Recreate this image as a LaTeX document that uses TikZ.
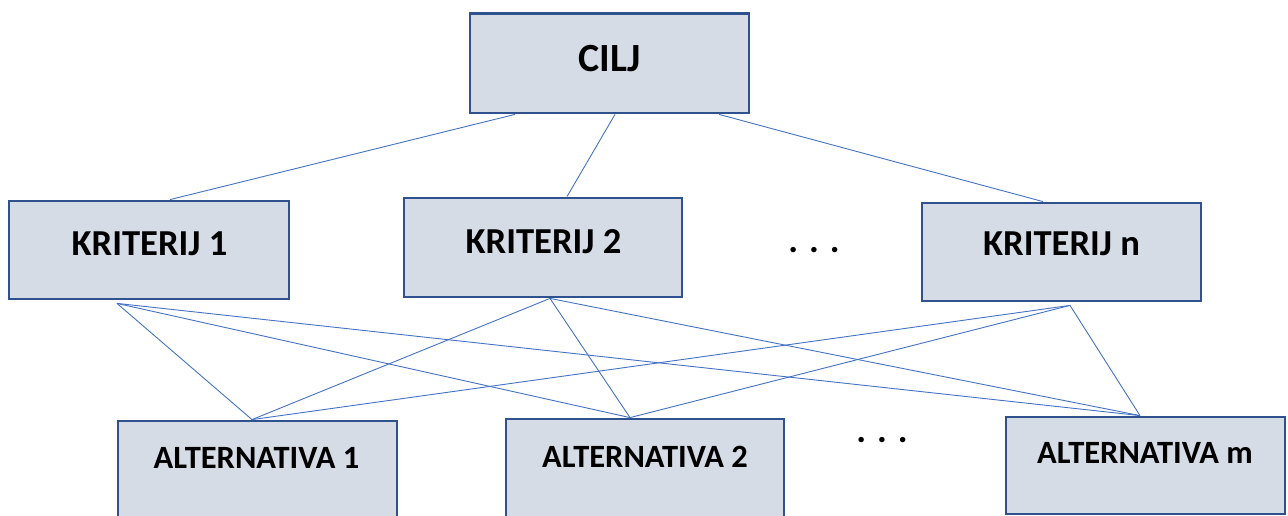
\documentclass[tikz,border=0pt]{standalone}
\usepackage{fontspec}
\setmainfont{Carlito}
\definecolor{boxfill}{HTML}{D6DCE5}
\definecolor{boxline}{HTML}{2F528F}
\definecolor{conn}{HTML}{4472C4}
\begin{document}
\begin{tikzpicture}[x=1pt,y=-1pt,
  box/.style={draw=boxline,fill=boxfill,line width=2.8pt,rectangle,inner sep=0pt},
  lbl/.style={anchor=base,inner sep=0pt,font=\bfseries\fontsize{36.6}{40}\selectfont},
  lblc/.style={anchor=base,inner sep=0pt,font=\bfseries\fontsize{40}{44}\selectfont},
  lbla/.style={anchor=base,inner sep=0pt,font=\bfseries\fontsize{32.5}{36}\selectfont},
  conn/.style={draw=conn,line width=0.9pt}]
\useasboundingbox (0,0) rectangle (1288,516);
% boxes
\node[box,minimum width=279pt,minimum height=99.5pt] (cilj) at (609.5,63.25) {};
\node[box,minimum width=280pt,minimum height=98pt] (k1) at (149,250) {};
\node[box,minimum width=278pt,minimum height=99pt] (k2) at (543,247.5) {};
\node[box,minimum width=279pt,minimum height=98pt] (kn) at (1061.5,252) {};
\node[box,minimum width=279pt,minimum height=110pt] (a1) at (257.5,476) {};
\node[box,minimum width=278pt,minimum height=110pt] (a2) at (645,474) {};
\node[box,minimum width=279pt,minimum height=97pt] (am) at (1145.5,465.5) {};
% labels
\node[lblc] (tcilj) at (609.5,72) {CILJ};
\node[lbl] (tk1) at (149.5,255) {KRITERIJ 1};
\node[lbl] (tk2) at (543.5,253) {KRITERIJ 2};
\node[lbl] (tkn) at (1061.5,255) {KRITERIJ n};
\node[lbla] (ta1) at (256.5,468) {ALTERNATIVA 1};
\node[lbla] (ta2) at (645,467) {ALTERNATIVA 2};
\node[lbla] (tam) at (1145,463) {ALTERNATIVA m};
\node[lbl] (dots1) at (814,252) {. . .};
\node[lbl] (dots2) at (882,442) {. . .};
% connector end points
\coordinate (c1) at ([xshift=-94.5pt]cilj.south);
\coordinate (c2) at ([xshift=5.5pt]cilj.south);
\coordinate (c3) at ([xshift=109.5pt]cilj.south);
\coordinate (k1t) at ([xshift=21pt]k1.north);
\coordinate (k2t) at ([xshift=24pt]k2.north);
\coordinate (knt) at ([xshift=-18.5pt]kn.north);
\coordinate (k1b) at ([xshift=-32pt,yshift=-3pt]k1.south);
\coordinate (k2b) at ([xshift=7pt]k2.south);
\coordinate (knb) at ([xshift=8.5pt,yshift=-3pt]kn.south);
\coordinate (a1t) at ([xshift=-5.5pt]a1.north);
\coordinate (a2t) at ([xshift=-15pt]a2.north);
\coordinate (amt) at ([xshift=-5.5pt]am.north);
% connectors
\draw[conn] (c1) -- (k1t);
\draw[conn] (c2) -- (k2t);
\draw[conn] (c3) -- (knt);
\foreach \k in {k1b,k2b,knb}{
  \foreach \a in {a1t,a2t,amt}{
    \draw[conn] (\k) -- (\a);
  }
}
\end{tikzpicture}
\end{document}
